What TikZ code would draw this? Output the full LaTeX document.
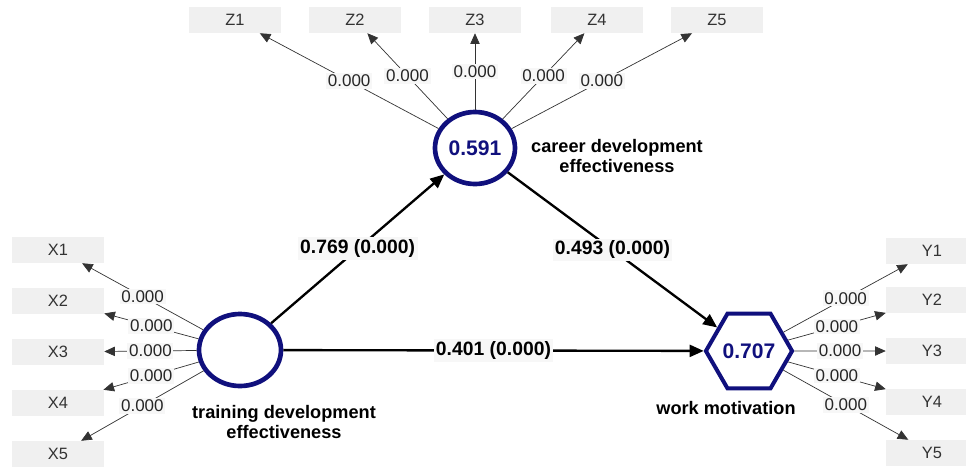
\documentclass[tikz,border=0pt]{standalone}
\usepackage{fontspec}
\setmainfont{Liberation Sans}
\usetikzlibrary{shapes.geometric,arrows.meta}

\definecolor{lvblue}{RGB}{16,16,125}
\definecolor{boxgray}{RGB}{240,240,240}
\definecolor{labgray}{RGB}{247,247,247}

\begin{document}
\begin{tikzpicture}[x=0.03cm,y=-0.03cm]
	\useasboundingbox (0,0) rectangle (966,466);
	\clip (0,0) rectangle (966,466);

	\newcommand\drawIndicator[4]{\node[fill=boxgray,inner sep=0pt,minimum width=2.76cm,minimum height=0.78cm,text=black!80,font=\fontsize{14}{15}\selectfont] at (#1,#2) (#4) {#3};}
	\newcommand\drawLoading[2]{\draw[black!80,line width=0.6pt,-{Triangle[length=0.32cm,width=0.28cm]}] (#1) -- node[fill=labgray,inner sep=1.5pt,text=black!85,font=\fontsize{14.5}{15}\selectfont] {0.000} (#2);}

	% latent variables
	\node[ellipse,draw=lvblue,line width=0.14cm,minimum width=2.46cm,minimum height=2.16cm,inner sep=0pt] at (240,350) (tde) {};
	\node[ellipse,draw=lvblue,line width=0.14cm,minimum width=2.4cm,minimum height=2.16cm,inner sep=0pt,text=lvblue,font=\bfseries\fontsize{18}{19}\selectfont] at (475,148) (cde) {0.591};
	\node[regular polygon,regular polygon sides=6,draw=lvblue,line width=0.12cm,minimum size=2.56cm,inner sep=0pt,text=lvblue,font=\bfseries\fontsize{18}{19}\selectfont] at (749,351) (wm) {0.707};

	\node[align=center,font=\bfseries\fontsize{15.5}{17}\selectfont] at (284,422) (tdelab) {training development\\effectiveness};
	\node[align=center,font=\bfseries\fontsize{15.5}{17}\selectfont] at (617,156) (cdelab) {career development\\effectiveness};
	\node[font=\bfseries\fontsize{15.5}{17}\selectfont] at (726,408) (wmlab) {work motivation};

	% indicators
	\foreach \i/\yy in {1/250,2/301,3/352,4/403,5/454}
	{
		\drawIndicator{58}{\yy}{X\i}{x\i}
	}
	\foreach \i/\xx in {1/235,2/355,3/475,4/597,5/717}
	{
		\drawIndicator{\xx}{20}{Z\i}{z\i}
	}
	\foreach \i/\yy in {1/251,2/300,3/351,4/402,5/453}
	{
		\drawIndicator{932}{\yy}{Y\i}{y\i}
	}

	% loadings
	\foreach \i in {1,...,5}
	{
		\drawLoading{tde}{x\i}
		\drawLoading{cde}{z\i}
		\drawLoading{wm}{y\i}
	}

	% paths
	\draw[line width=0.07cm,-{Triangle[length=0.42cm,width=0.36cm]}] (tde) -- node[fill=labgray,inner sep=2pt,font=\bfseries\fontsize{16.5}{18}\selectfont] {0.769 (0.000)} (cde);
	\draw[line width=0.07cm,-{Triangle[length=0.42cm,width=0.36cm]}] (cde) -- node[fill=labgray,inner sep=2pt,font=\bfseries\fontsize{16.5}{18}\selectfont] {0.493 (0.000)} (wm);
	\draw[line width=0.07cm,-{Triangle[length=0.42cm,width=0.36cm]}] (tde) -- node[fill=labgray,inner sep=2pt,font=\bfseries\fontsize{16.5}{18}\selectfont] {0.401 (0.000)} (wm);
\end{tikzpicture}
\end{document}
